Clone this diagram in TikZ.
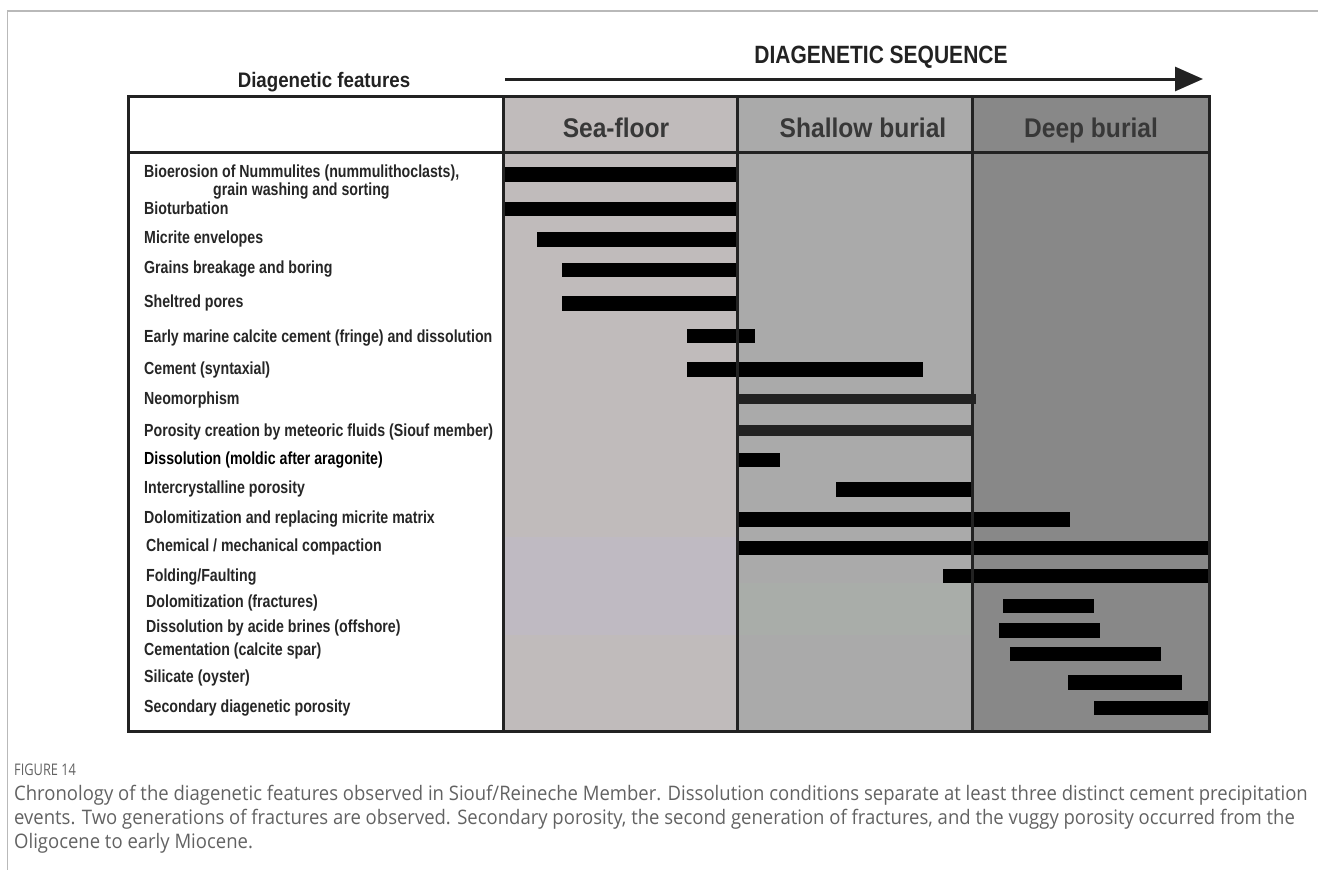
\documentclass[tikz,border=0pt]{standalone}
\usepackage{fontspec}
\setmainfont{Liberation Sans}
\newfontfamily\lblf[FakeStretch=0.81]{Liberation Sans}
\newfontfamily\hdrf[FakeStretch=0.91]{Liberation Sans}
\newfontfamily\seqf[FakeStretch=0.84]{Liberation Sans}
\newfontfamily\featf[FakeStretch=0.89]{Liberation Sans}
\newfontfamily\capf[FakeStretch=0.925]{Open Sans}
\newfontfamily\figf[FakeStretch=0.8]{Open Sans}
\usetikzlibrary{arrows.meta}
\definecolor{seac}{HTML}{C0BBBB}
\definecolor{seal}{HTML}{BFBAC2}
\definecolor{shalc}{HTML}{AAAAAA}
\definecolor{shalg}{HTML}{A9ADA9}
\definecolor{deepc}{HTML}{888888}
\definecolor{linec}{HTML}{222222}
\definecolor{txtc}{HTML}{262626}
\definecolor{capc}{HTML}{626262}
\tikzset{
  tline/.style={draw=linec,line width=3pt},
  gbar/.style={fill=black},
  lbl/.style={anchor=base west,inner sep=0pt,text=txtc,font=\lblf\bfseries\fontsize{17.5}{20}\selectfont},
  hdr/.style={anchor=base,inner sep=0pt,text=linec!90!white,font=\hdrf\bfseries\fontsize{27}{30}\selectfont},
  captxt/.style={anchor=base west,inner sep=0pt,text=capc,font=\capf\fontsize{20}{24}\selectfont}
}
\begin{document}
\begin{tikzpicture}[x=1pt,y=-1pt]
\useasboundingbox (0,0) rectangle (1318,870);
% outer frame
\draw[gray!55,line width=1.3pt] (7.5,870) -- (7.5,11) -- (1318,11);
% column fills
\fill[white] (128,96) rectangle (503,731);
\fill[seac] (503,96) rectangle (737,731);
\fill[seal] (503,537) rectangle (737,635);
\fill[shalc] (737,96) rectangle (972,731);
\fill[shalg] (737,583) rectangle (972,635);
\fill[deepc] (972,96) rectangle (1209,731);
% bars
\foreach \xa/\xb/\yc in {
  505/737/174.5, 505/737/209, 537/737/239.5, 562/737/270, 562/737/303.5,
  687/755/336, 687/923/369.5, 737/1070/519.5,
  737/1210/548, 943/1210/576, 1003/1094/606, 999/1100/630.5,
  1010/1161/654, 1068/1182/682.5, 1094/1208/708}
  \fill[gbar] (\xa,\yc-7.2) rectangle (\xb,\yc+7.2);
\fill[linec] (737,394) rectangle (976,404);
\fill[linec] (737,425) rectangle (972,436);
\fill[gbar] (737,452.5) rectangle (780,467);
\fill[gbar] (836,482) rectangle (972,497);
% table lines
\draw[tline] (128,96) rectangle (1209,731);
\draw[tline] (128,152) -- (1209,152);
\draw[tline] (503,96) -- (503,731);
\draw[tline] (737,96) -- (737,731);
\draw[tline] (972,96) -- (972,731);
% titles
\node[inner sep=0pt,text=linec,font=\featf\bfseries\fontsize{21}{24}\selectfont] (feat) at (324,82) {Diagenetic features};
\node[inner sep=0pt,text=linec,font=\seqf\bfseries\fontsize{25}{28}\selectfont] (seq) at (881,57) {DIAGENETIC SEQUENCE};
\coordinate (as) at (505,79);
\coordinate (ae) at (1203,79);
\draw[line width=3pt,draw=linec,-{Triangle[length=28pt,width=24pt]}] (as) -- (ae);
% column headers
\node[hdr] (sf) at (616,137) {Sea-floor};
\node[hdr] (sb) at (863,137) {Shallow burial};
\node[hdr] (db) at (1091,137) {Deep burial};
% labels
\node[lbl] (l1) at (144,177) {Bioerosion of Nummulites (nummulithoclasts),};
\node[lbl] (l1b) at (213,195) {grain washing and sorting};
\node[lbl] (l2) at (144,214) {Bioturbation};
\node[lbl] (l3) at (144,243) {Micrite envelopes};
\node[lbl] (l4) at (144,273) {Grains breakage and boring};
\node[lbl] (l5) at (144,307) {Sheltred pores};
\node[lbl] (l6) at (144,342) {Early marine calcite cement (fringe) and dissolution};
\node[lbl] (l7) at (144,374) {Cement (syntaxial)};
\node[lbl] (l8) at (144,404) {Neomorphism};
\node[lbl] (l9) at (144,436) {Porosity creation by meteoric fluids (Siouf member)};
\node[lbl,text=black] (l10) at (144,464) {Dissolution (moldic after aragonite)};
\node[lbl] (l11) at (144,493) {Intercrystalline porosity};
\node[lbl] (l12) at (144,523) {Dolomitization and replacing micrite matrix};
\node[lbl] (l13) at (146,551) {Chemical / mechanical compaction};
\node[lbl] (l14) at (146,581) {Folding/Faulting};
\node[lbl] (l15) at (146,607) {Dolomitization (fractures)};
\node[lbl] (l16) at (146,632) {Dissolution by acide brines (offshore)};
\node[lbl] (l17) at (144,655) {Cementation (calcite spar)};
\node[lbl] (l18) at (144,682) {Silicate (oyster)};
\node[lbl] (l19) at (144,712) {Secondary diagenetic porosity};
% caption
\node[captxt,font=\figf\fontsize{16}{18}\selectfont] (fig) at (14,775) {FIGURE 14};
\node[captxt] (c1) at (14,800) {Chronology of the diagenetic features observed in Siouf/Reineche Member. Dissolution conditions separate at least three distinct cement precipitation};
\node[captxt] (c2) at (14,824) {events. Two generations of fractures are observed. Secondary porosity, the second generation of fractures, and the vuggy porosity occurred from the};
\node[captxt] (c3) at (14,848) {Oligocene to early Miocene.};
\end{tikzpicture}
\end{document}
